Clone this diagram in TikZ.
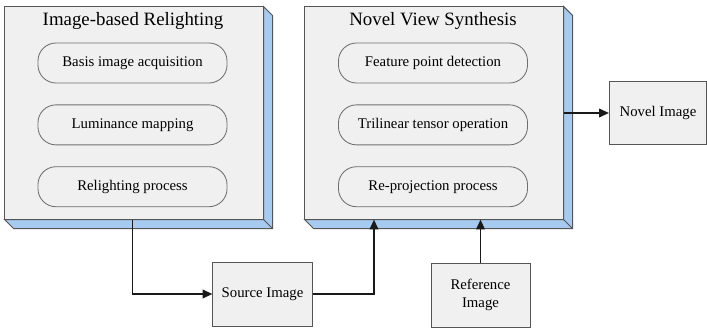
\documentclass[tikz,border=0pt]{standalone}
\usepackage{fontspec}
\setmainfont{Liberation Serif}
\usepackage{xcolor}
\usepackage{tikz}
\usetikzlibrary{positioning,calc,arrows.meta}

\definecolor{facegray}{RGB}{240,240,240}
\definecolor{sideblue}{RGB}{166,202,240}
\definecolor{edgegray}{RGB}{85,85,85}
\definecolor{stagegray}{RGB}{110,110,110}

\tikzset{
	block/.style={draw=edgegray,fill=facegray,line width=0.7pt,
		minimum width=6.45cm,minimum height=5.3cm},
	blocktitle/.style={font=\fontsize{13.4}{16}\selectfont,inner sep=0pt},
	stage/.style={draw=stagegray,fill=facegray,line width=0.6pt,rounded corners=0.45cm,
		minimum width=4.725cm,minimum height=1cm,font=\fontsize{10.5}{12.5}\selectfont},
	imagebox/.style={draw=edgegray,fill=facegray,line width=0.7pt,
		minimum width=2.475cm,minimum height=1.6cm,align=center,
		font=\fontsize{10.5}{12.5}\selectfont},
	flow/.style={line width=1.4pt,draw=black!90,-{Triangle[length=7pt,width=6pt]}}
}

\begin{document}
\begin{tikzpicture}[x=0.025cm,y=-0.025cm]
	\useasboundingbox (0,0) rectangle (707,329);
	\node[block] (relight) at (134,113) {};
	\node[block] (synth) at (434,113) {};
	\foreach \b in {relight,synth}{
		\filldraw[fill=sideblue,draw=edgegray,line width=0.7pt] (\b.north east) -- ++(9,9)
			-- ($(\b.south east)+(9,9)$) -- ($(\b.south west)+(9,9)$) -- (\b.south west)
			-- (\b.south east) -- cycle;
		\draw[edgegray,line width=0.7pt] (\b.south east) -- ++(9,9);
	}
	\node[blocktitle] (relighttitle) at (133,21) {Image-based Relighting};
	\node[blocktitle] (synthtitle) at (433,21) {Novel View Synthesis};

	\node[stage] (basis) at (132.5,63) {Basis image acquisition};
	\node[stage,below=0.525cm of basis] (lum) {Luminance mapping};
	\node[stage,below=0.525cm of lum] (relproc) {Relighting process};
	\node[stage] (feature) at (433,63) {Feature point detection};
	\node[stage,below=0.525cm of feature] (tensor) {Trilinear tensor operation};
	\node[stage,below=0.525cm of tensor] (reproj) {Re-projection process};

	\node[imagebox] (source) at (262.5,294) {Source Image};
	\node[imagebox] (reference) at (480.5,295) {Reference\\Image};
	\node[imagebox,minimum width=2.425cm,minimum height=1.575cm] (novel) at (658,113) {Novel Image};

	\draw[flow] (relproc |- relight.south) |- (source.west);
	\draw[flow] (source.east) -| ([xshift=-1.5cm]synth.south);
	\draw[flow] (reference.north) -- (reference.north |- synth.south);
	\draw[flow] (synth.east) -- (novel.west);
\end{tikzpicture}
\end{document}
